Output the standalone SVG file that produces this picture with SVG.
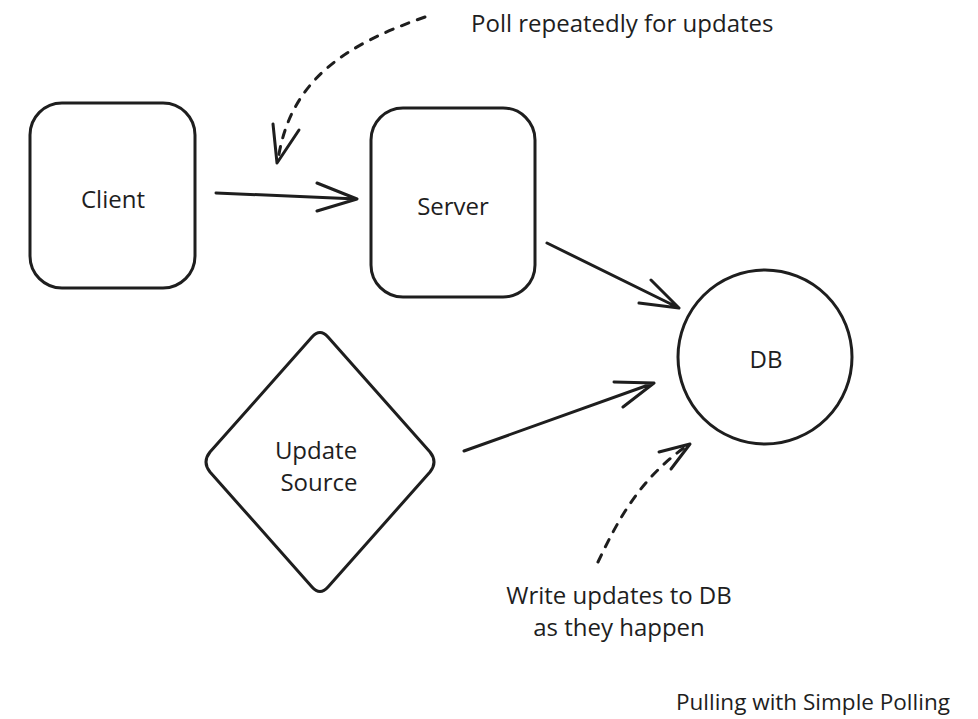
<svg xmlns="http://www.w3.org/2000/svg" width="978" height="719" viewBox="0 0 978 719">
<style>
.s{fill:none;stroke:#1e1e1e;stroke-width:3;stroke-linecap:round;stroke-linejoin:round}
.d{stroke-dasharray:8 9}
.t{font-family:"Open Sans","Noto Sans","Liberation Sans",sans-serif;font-size:24px;fill:#1e1e1e;text-anchor:middle}
.l{text-anchor:start}
</style>
<rect width="978" height="719" fill="#ffffff"/>
<g id="client">
<rect class="s" x="30" y="103" width="165" height="185" rx="32"/>
<text class="t" x="113" y="208">Client</text>
</g>
<g id="server">
<rect class="s" x="371" y="108" width="164" height="189" rx="32"/>
<text class="t" x="453" y="215">Server</text>
</g>
<g id="db">
<circle class="s" cx="765" cy="357" r="87"/>
<text class="t" x="766" y="368">DB</text>
</g>
<g id="update-source">
<path class="s" d="M312,337 Q320,328 328,337 L430,452 Q438,462 430,472 L328,587 Q320,596 312,587 L210,472 Q202,462 210,452 Z"/>
<text class="t" x="316" y="459">Update</text>
<text class="t" x="319" y="491">Source</text>
</g>
<g id="connectors">
<path class="s" d="M216,193 L357,199 M317,183 L357,199 L317,211"/>
<path class="s" d="M547,243 L679,308 M651,280 L679,308 L639,303"/>
<path class="s" d="M464,451 L654,383 M614,382 L654,383 L623,407"/>
<path class="s d" d="M425,17 C345,45 290,80 278,160"/>
<path class="s" d="M273,124 L277,163 L299,130"/>
<path class="s d" d="M598,562 C618,520 640,478 688,445"/>
<path class="s" d="M659,452 L690,444 L671,469"/>
</g>
<g id="labels">
<text class="t l" x="471" y="32">Poll repeatedly for updates</text>
<text class="t" x="619" y="604">Write updates to DB</text>
<text class="t" x="619" y="636">as they happen</text>
<text class="t l" x="676" y="710" style="font-size:22.5px">Pulling with Simple Polling</text>
</g>
</svg>
